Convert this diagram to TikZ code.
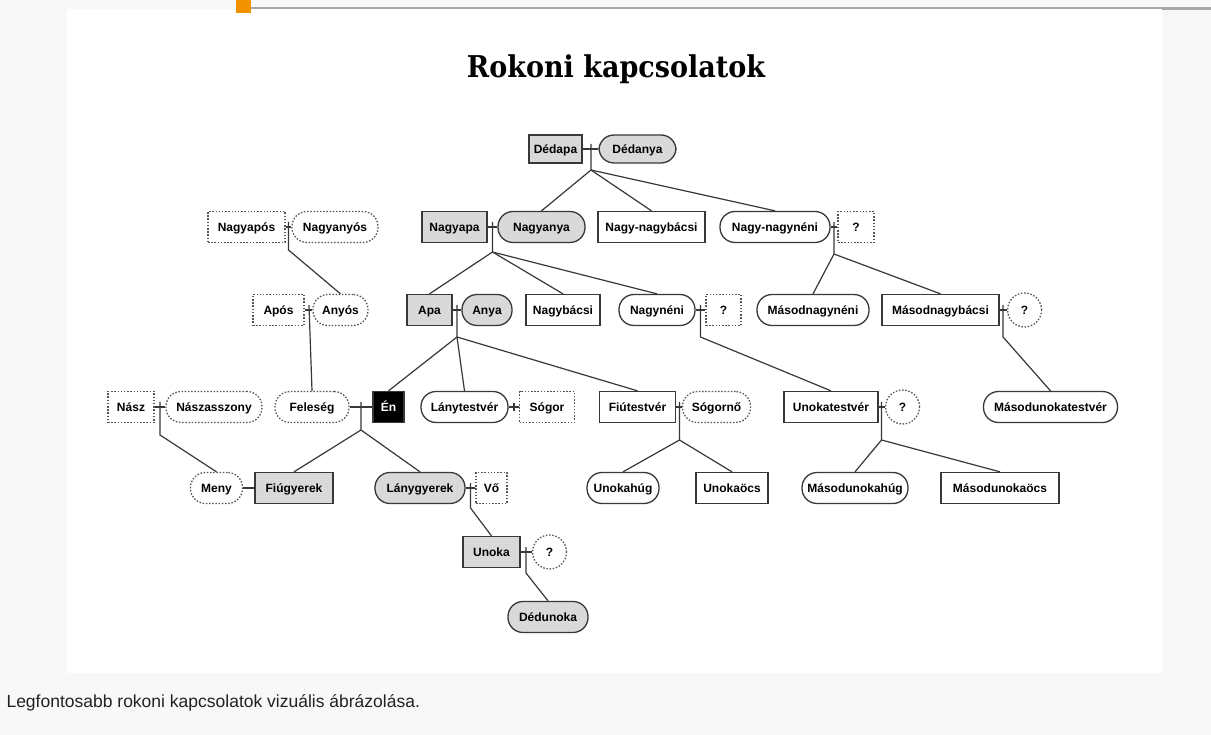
\documentclass[tikz,border=0pt]{standalone}
\usepackage{fontspec}
\setmainfont{Liberation Sans}
\newfontfamily\titlefont{DejaVu Serif}
\tikzset{>=stealth}
\definecolor{hatter}{HTML}{F8F8F8}
\definecolor{felso}{HTML}{A8A8A8}
\definecolor{narancs}{HTML}{F39200}
\definecolor{keret}{HTML}{383838}
\definecolor{pontozott}{HTML}{555555}
\definecolor{szurke}{HTML}{D9D9D9}
\definecolor{felirat}{HTML}{222222}
\tikzset{
  rokon/.style={draw=keret, line width=1.3pt, fill=white, text=black,
    font=\fontsize{12}{14}\selectfont\bfseries, inner sep=0pt,
    text height=8.6pt, text depth=0pt, minimum height=31pt},
  ferfi/.style={rokon, rectangle},
  no/.style={rokon, rounded corners=15pt},
  kerdes/.style={rokon, circle, minimum size=34pt},
  direkt/.style={fill=szurke},
  sogorsag/.style={draw=pontozott, dash pattern=on 1.5pt off 1.7pt},
  kapocs/.style={draw=keret, line width=1.2pt},
}

\begin{document}
\begin{tikzpicture}[x=1pt,y=-1pt]
  \useasboundingbox (0,0) rectangle (1211,735);
  \fill[hatter] (0,0) rectangle (1211,735);
  \fill[white] (67,9) rectangle (1162,673);
  \fill[felso] (250,7.5) rectangle (1211,9.5);
  \fill[felso] (1162,7.5) rectangle (1211,10.5);
  \fill[narancs] (236,0) rectangle (251,13);

  \node[anchor=base, font=\titlefont\fontsize{30}{34}\selectfont\bfseries] (cim) at (616,78)
    {\scalebox{0.9}[1]{Rokoni kapcsolatok}};

  % dedszulok
  \node[ferfi,direkt,minimum width=53pt,minimum height=28pt] (dedapa) at (555.5,149) {Dédapa};
  \node[no,direkt,minimum width=77pt,minimum height=28pt] (dedanya) at (637.5,149) {Dédanya};

  % nagyszulok
  \node[ferfi,sogorsag,minimum width=77pt] (nagyapos) at (246.5,227) {Nagyapós};
  \node[no,sogorsag,minimum width=86pt] (nagyanyos) at (335,227) {Nagyanyós};
  \node[ferfi,direkt,minimum width=65pt] (nagyapa) at (454.5,227) {Nagyapa};
  \node[no,direkt,minimum width=87pt] (nagyanya) at (541.5,227) {Nagyanya};
  \node[ferfi,minimum width=107pt] (nagynagybacsi) at (651.5,227) {Nagy-nagybácsi};
  \node[no,minimum width=110pt] (nagynagyneni) at (775,227) {Nagy-nagynéni};
  \node[ferfi,sogorsag,minimum width=36pt] (k1) at (856,227) {?};

  % szulok
  \node[ferfi,sogorsag,minimum width=51pt] (apos) at (278.5,310) {Após};
  \node[no,sogorsag,minimum width=55pt] (anyos) at (340.5,310) {Anyós};
  \node[ferfi,direkt,minimum width=45pt] (apa) at (429.5,310) {Apa};
  \node[no,direkt,minimum width=50pt] (anya) at (487,310) {Anya};
  \node[ferfi,minimum width=74pt] (nagybacsi) at (563,310) {Nagybácsi};
  \node[no,minimum width=76pt] (nagyneni) at (657,310) {Nagynéni};
  \node[ferfi,sogorsag,minimum width=35pt] (k2) at (723.5,310) {?};
  \node[no,minimum width=112pt] (masodnagyneni) at (813,310) {Másodnagynéni};
  \node[ferfi,minimum width=117pt] (masodnagybacsi) at (940.5,310) {Másodnagybácsi};
  \node[kerdes,sogorsag] (k3) at (1024.5,310) {?};

  % en nemzedekem
  \node[ferfi,sogorsag,minimum width=46pt] (nasz) at (131,407) {Nász};
  \node[no,sogorsag,minimum width=96pt] (naszasszony) at (214,407) {Nászasszony};
  \node[no,sogorsag,minimum width=74pt] (feleseg) at (312,407) {Feleség};
  \node[ferfi,fill=black,text=white,minimum width=31pt] (en) at (388.5,407) {Én};
  \node[no,minimum width=87pt] (lanytestver) at (464.5,407) {Lánytestvér};
  \node[ferfi,sogorsag,minimum width=55pt] (sogor) at (547,407) {Sógor};
  \node[ferfi,minimum width=76pt] (fiutestver) at (637.5,407) {Fiútestvér};
  \node[no,sogorsag,minimum width=68pt] (sogorno) at (716.5,407) {Sógornő};
  \node[ferfi,minimum width=94pt] (unokatestver) at (831,407) {Unokatestvér};
  \node[kerdes,sogorsag] (k4) at (902.5,407) {?};
  \node[no,minimum width=134pt] (masodunokatestver) at (1050.5,407) {Másodunokatestvér};

  % gyerekek
  \node[no,sogorsag,minimum width=52pt] (meny) at (216.5,488) {Meny};
  \node[ferfi,direkt,minimum width=78pt] (fiugyerek) at (294,488) {Fiúgyerek};
  \node[no,direkt,minimum width=90pt] (lanygyerek) at (420,488) {Lánygyerek};
  \node[ferfi,sogorsag,minimum width=31pt] (vo) at (491.5,488) {Vő};
  \node[no,minimum width=72pt] (unokahug) at (623,488) {Unokahúg};
  \node[ferfi,minimum width=72pt] (unokaocs) at (732,488) {Unokaöcs};
  \node[no,minimum width=106pt] (masodunokahug) at (855,488) {Másodunokahúg};
  \node[ferfi,minimum width=118pt] (masodunokaocs) at (1000,488) {Másodunokaöcs};

  % unokak
  \node[ferfi,direkt,minimum width=57pt] (unoka) at (491.5,552) {Unoka};
  \node[kerdes,sogorsag] (k5) at (549.5,552) {?};
  \node[no,direkt,minimum width=80pt] (dedunoka) at (548,617) {Dédunoka};

  % hazassagok es leszarmazas
  \coordinate (h1) at (591,144);   \coordinate (e1) at (591,170);
  \coordinate (h2) at (288.5,222); \coordinate (e2) at (288.5,250);
  \coordinate (h3) at (492.5,222); \coordinate (e3) at (492.5,252);
  \coordinate (h4) at (834,222);   \coordinate (e4) at (834,254);
  \coordinate (h5) at (309,305);
  \coordinate (h6) at (457,305);   \coordinate (e6) at (457,337);
  \coordinate (h7) at (700.5,305); \coordinate (e7) at (700.5,337);
  \coordinate (h8) at (1003,305);  \coordinate (e8) at (1003,337);
  \coordinate (h9) at (160,402);   \coordinate (e9) at (160,435);
  \coordinate (h10) at (361,402);  \coordinate (e10) at (361,430);
  \coordinate (h11) at (514,403);  \coordinate (e11) at (514,411);
  \coordinate (h12) at (679.5,402); \coordinate (e12) at (679.5,440);
  \coordinate (h13) at (881.5,402); \coordinate (e13) at (881.5,440);
  \coordinate (h15) at (470.5,483); \coordinate (e15) at (470.5,508);
  \coordinate (h16) at (526,547);  \coordinate (e16) at (526,573);

  \draw[kapocs] (dedapa) -- (dedanya);
  \draw[kapocs] (h1) -- (e1) -- (nagyanya.north);
  \draw[kapocs] (e1) -- (nagynagybacsi.north);
  \draw[kapocs] (e1) -- (nagynagyneni.north);

  \draw[kapocs] (nagyapos) -- (nagyanyos);
  \draw[kapocs] (h2) -- (e2) -- (anyos.north);

  \draw[kapocs] (nagyapa) -- (nagyanya);
  \draw[kapocs] (h3) -- (e3) -- (apa.north);
  \draw[kapocs] (e3) -- (nagybacsi.north);
  \draw[kapocs] (e3) -- (nagyneni.north);

  \draw[kapocs] (nagynagyneni) -- (k1);
  \draw[kapocs] (h4) -- (e4) -- (masodnagyneni.north);
  \draw[kapocs] (e4) -- (masodnagybacsi.north);

  \draw[kapocs] (apos) -- (anyos);
  \draw[kapocs] (h5) -- (feleseg.north);

  \draw[kapocs] (apa) -- (anya);
  \draw[kapocs] (h6) -- (e6) -- (en.north);
  \draw[kapocs] (e6) -- (lanytestver.north);
  \draw[kapocs] (e6) -- (fiutestver.north);

  \draw[kapocs] (nagyneni) -- (k2);
  \draw[kapocs] (h7) -- (e7) -- (unokatestver.north);

  \draw[kapocs] (masodnagybacsi) -- (k3);
  \draw[kapocs] (h8) -- (e8) -- (masodunokatestver.north);

  \draw[kapocs] (nasz) -- (naszasszony);
  \draw[kapocs] (h9) -- (e9) -- (meny.north);

  \draw[kapocs] (feleseg) -- (en);
  \draw[kapocs] (h10) -- (e10) -- (fiugyerek.north);
  \draw[kapocs] (e10) -- (lanygyerek.north);

  \draw[kapocs] (lanytestver) -- (sogor);
  \draw[kapocs] (h11) -- (e11);

  \draw[kapocs] (fiutestver) -- (sogorno);
  \draw[kapocs] (h12) -- (e12) -- (unokahug.north);
  \draw[kapocs] (e12) -- (unokaocs.north);

  \draw[kapocs] (unokatestver) -- (k4);
  \draw[kapocs] (h13) -- (e13) -- (masodunokahug.north);
  \draw[kapocs] (e13) -- (masodunokaocs.north);

  \draw[kapocs] (meny) -- (fiugyerek);

  \draw[kapocs] (lanygyerek) -- (vo);
  \draw[kapocs] (h15) -- (e15) -- (unoka.north);

  \draw[kapocs] (unoka) -- (k5);
  \draw[kapocs] (h16) -- (e16) -- (dedunoka.north);

  \node[anchor=base west, text=felirat, font=\fontsize{17.5}{20}\selectfont] (leiras) at (3,707)
    {Legfontosabb rokoni kapcsolatok vizuális ábrázolása.};
\end{tikzpicture}
\end{document}
